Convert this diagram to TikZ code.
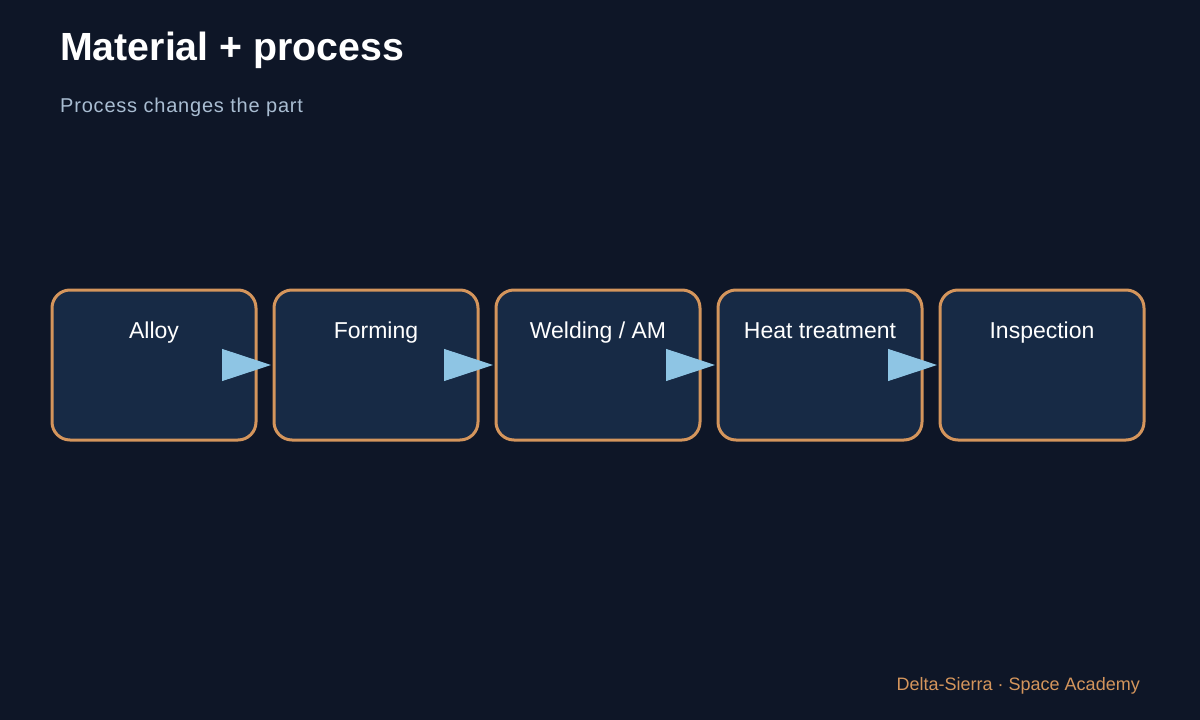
\documentclass[tikz,border=0pt]{standalone}
\usepackage{fontspec}
\setmainfont{Liberation Sans}
\usetikzlibrary{arrows.meta}
\definecolor{bgc}{HTML}{0E1627}
\definecolor{boxfill}{HTML}{172A45}
\definecolor{boxline}{HTML}{D4955C}
\definecolor{arrc}{HTML}{8EC5E4}
\definecolor{subc}{HTML}{A9BDD2}
\definecolor{footc}{HTML}{D4955C}
\tikzset{
  stagebox/.style={draw=boxline, fill=boxfill, line width=3pt, rounded corners=18pt,
    minimum width=204pt, minimum height=150pt, outer sep=0pt, inner sep=0pt},
  stagelabel/.style={anchor=base, text=white, font=\fontsize{23pt}{27pt}\selectfont, inner sep=0pt},
  flowarrow/.style={draw=arrc, line width=1pt, shorten >=3pt,
    -{Triangle[length=49pt,width=32pt,fill=arrc]}},
}
\begin{document}
\begin{tikzpicture}[x=1pt,y=-1pt]
\fill[bgc] (0,0) rectangle (1200,720);
\useasboundingbox (0,0) rectangle (1200,720);
\node[anchor=base west, text=white, inner sep=0pt, font=\fontsize{39.3pt}{44pt}\selectfont\bfseries] (title) at (60,60) {Material + process};
\node[anchor=base west, text=subc, inner sep=0pt, font=\fontsize{20pt}{24pt}\selectfont\addfontfeature{LetterSpace=4}] (sub) at (60,112) {Process changes the part};
\foreach \i/\x/\t in {1/154/{Alloy}, 2/376/{Forming}, 3/598/{Welding / AM}, 4/820/{Heat treatment}, 5/1042/{Inspection}}{
  \node[stagebox] (b\i) at (\x,365) {};
  \node[stagelabel] (l\i) at (\x,338) {\t};
}
\foreach \i [evaluate=\i as \j using int(\i+1)] in {1,2,3,4}{
  \draw[flowarrow] (b\i.east) -- (b\j.west);
}
\node[anchor=base east, text=footc, inner sep=0pt, font=\fontsize{18pt}{22pt}\selectfont] (foot) at (1140,690) {Delta-Sierra · Space Academy};
\end{tikzpicture}
\end{document}
